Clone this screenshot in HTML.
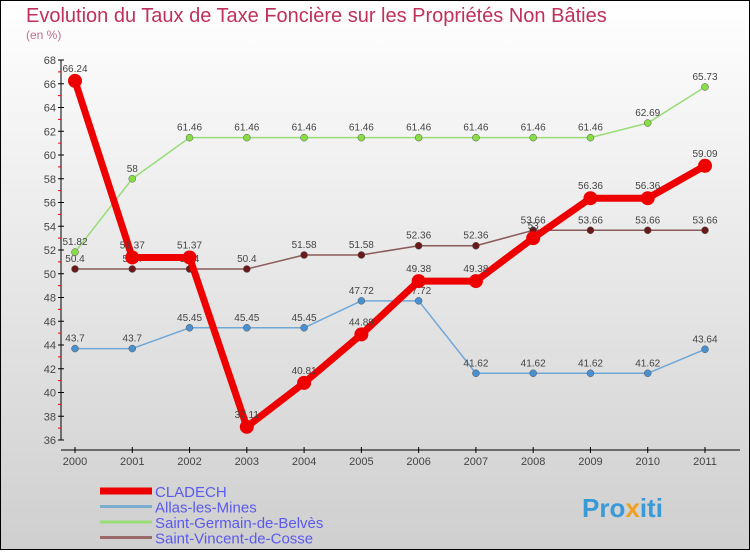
<!DOCTYPE html>
<html><head><meta charset="utf-8"><style>
body{margin:0}
#c{width:750px;height:550px;position:relative;font-family:"Liberation Sans",sans-serif}
</style></head><body>
<div id="c">
<svg id="s" width="750" height="550" xmlns="http://www.w3.org/2000/svg">
<defs><linearGradient id="bg" x1="0" y1="0" x2="0" y2="1"><stop offset="0" stop-color="#ffffff"/><stop offset="1" stop-color="#cfcfcf"/></linearGradient></defs>
<rect x="0.5" y="0.5" width="749" height="549" fill="url(#bg)" stroke="#000"/>
<text x="26" y="22" font-size="20" fill="#c0305a">Evolution du Taux de Taxe Foncière sur les Propriétés Non Bâties</text>
<text x="26" y="39" font-size="12" fill="#c0708a">(en %)</text>
<g id="g"></g>
<text x="582" y="517" font-size="26" font-weight="bold" fill="#3a9ad8">Pro<tspan fill="#f0a020">x</tspan>iti</text>
</svg>
</div>
<script>
const years=["2000","2001","2002","2003","2004","2005","2006","2007","2008","2009","2010","2011"];
const yTicks=[36,38,40,42,44,46,48,50,52,54,56,58,60,62,64,66,68];
const cladech=[66.24,51.37,51.37,37.11,40.81,44.89,49.38,49.38,53,56.36,56.36,59.09];
const allas=[43.7,43.7,45.45,45.45,45.45,47.72,47.72,41.62,41.62,41.62,41.62,43.64];
const sgb=[51.82,58,61.46,61.46,61.46,61.46,61.46,61.46,61.46,61.46,62.69,65.73];
const svc=[50.4,50.4,50.4,50.4,51.58,51.58,52.36,52.36,53.66,53.66,53.66,53.66];
const seriesNames=["CLADECH","Allas-les-Mines","Saint-Germain-de-Belvès","Saint-Vincent-de-Cosse"];
const NS="http://www.w3.org/2000/svg";
const g=document.getElementById('g');
function X(i){return 75+i*(705-75)/11;}
function Y(v){return 440-(v-36)*(380/32);}
function mk(t,a,p){const e=document.createElementNS(NS,t);for(const k in a)e.setAttribute(k,a[k]);(p||g).appendChild(e);return e;}
// axes
let ya=mk('line',{x1:61,y1:Y(68),x2:61,y2:Y(36),stroke:'#000'});


let xa=mk('line',{x1:61,y1:450,x2:740,y2:450,stroke:'#000'});


yTicks.forEach((v,i)=>{
  mk('line',{x1:58,y1:Y(v),x2:64,y2:Y(v),stroke:'#000'});
  if(i<yTicks.length-1)mk('line',{x1:58,y1:Y(v+1),x2:61,y2:Y(v+1),stroke:'#e00'});
  const t=mk('text',{x:56,y:Y(v)+4,'font-size':11,fill:'#444','text-anchor':'end'});
  t.textContent=v;
  
  
});
years.forEach((y,i)=>{
  mk('line',{x1:X(i),y1:447,x2:X(i),y2:453,stroke:'#000'});
  const t=mk('text',{x:X(i),y:465,'font-size':11,fill:'#444','text-anchor':'middle'});
  t.textContent=y;
  
  
});
function series(data,color,dot,w,r,name){
  const pts=data.map((v,i)=>X(i)+','+Y(v)).join(' ');
  const l=mk('polyline',{points:pts,fill:'none',stroke:color,'stroke-width':w,'stroke-linejoin':'round'});
  
  
  data.forEach((v,i)=>{
    const c=mk('circle',{cx:X(i),cy:Y(v),r:r,fill:dot,stroke:w>3?'none':'#555','stroke-width':0.5});
    
    
    const t=mk('text',{x:X(i),y:Y(v)-(w>3?9:7),'font-size':10,fill:'#444','text-anchor':'middle'});
    t.textContent=v;
    
    
  });
}
series(svc,'#8b5a5a','#6a1a1a',1.5,3.5,'saint-vincent');
series(sgb,'#99dd77','#88dd44',1.5,3.5,'saint-germain');
series(allas,'#6fa8d8','#4a90d0',1.5,3.5,'allas');
series(cladech,'#ee0000','#ee0000',7,7,'cladech');
const lc=['#ee0000','#7aaed0','#99dd77','#9a6a6a'],lw=[7,3,3,3];
seriesNames.forEach((n,i)=>{
  const y=491+i*15.5;
  const l=mk('line',{x1:100,y1:y,x2:152,y2:y,stroke:lc[i],'stroke-width':lw[i]});
  
  
  const t=mk('text',{x:155,y:y+6,'font-size':15,fill:'#5a5aee'});
  t.textContent=n;
  
  
});
</script>
</body></html>
